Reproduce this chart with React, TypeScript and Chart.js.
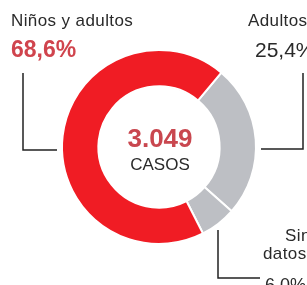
import React, { useEffect, useRef } from "react";
import { Chart, registerables } from "chart.js";

Chart.register(...registerables);

const categories = ["Adultos", "Sin datos", "Niños y adultos"];
const values = [25.4, 6.0, 68.6];
const valueLabels = ["25,4%", "6,0%", "68,6%"];
const colors = ["#bdbfc4", "#bdbfc4", "#f01c24"];
const totalLabel = "3.049";
const totalCaption = "CASOS";

const FONT = "'Liberation Sans', Arial, sans-serif";

const annotate = {
  id: "annotate",
  afterDraw(chart: any) {
    const ctx = chart.ctx as CanvasRenderingContext2D;
    const arc = chart.getDatasetMeta(0).data[0] as any;
    const cx = arc.x;
    const cy = arc.y;
    const R = arc.outerRadius;
    ctx.save();
    // centre
    ctx.textAlign = "center";
    ctx.textBaseline = "alphabetic";
    ctx.fillStyle = "#c9474f";
    ctx.font = `bold 26px ${FONT}`;
    ctx.fillText(totalLabel, cx + 1, cy + 0);
    ctx.fillStyle = "#2a2a2a";
    ctx.font = `17px ${FONT}`;
    ctx.fillText(totalCaption, cx + 1, cy + 23);

    // leader lines
    ctx.strokeStyle = "#222";
    ctx.lineWidth = 1.5;
    ctx.beginPath();
    ctx.moveTo(23, 73);
    ctx.lineTo(23, cy + 3);
    ctx.lineTo(cx - R - 5, cy + 3);
    ctx.stroke();
    ctx.beginPath();
    ctx.moveTo(303, 73);
    ctx.lineTo(303, cy + 2);
    ctx.lineTo(cx + R + 5, cy + 2);
    ctx.stroke();
    ctx.beginPath();
    ctx.moveTo(218, cy + 83);
    ctx.lineTo(218, 278);
    ctx.lineTo(260, 278);
    ctx.stroke();

    // labels
    ctx.textAlign = "left";
    ctx.fillStyle = "#2a2a2a";
    (ctx as any).letterSpacing = "0.4px";
    ctx.font = `17px ${FONT}`;
    ctx.fillText("Niños y adultos", 11, 26);
    ctx.fillText(categories[0], 248, 26);
    ctx.fillText("Sin", 285, 241);
    ctx.fillText("datos", 263, 259);
    (ctx as any).letterSpacing = "0px";
    ctx.fillStyle = "#d0444d";
    ctx.font = `bold 23px ${FONT}`;
    ctx.fillText(valueLabels[2], 11, 57);
    ctx.fillStyle = "#2a2a2a";
    ctx.font = `21px ${FONT}`;
    ctx.fillText(valueLabels[0], 255, 57);
    ctx.font = `18px ${FONT}`;
    ctx.fillText(valueLabels[1], 265, 291);
    ctx.restore();
  },
};

export default function App() {
  const ref = useRef<HTMLCanvasElement>(null);
  useEffect(() => {
    if (!ref.current) return;
    const chart = new Chart(ref.current, {
      type: "doughnut",
      data: {
        labels: categories,
        datasets: [
          {
            data: values,
            backgroundColor: colors,
            borderColor: "#ffffff",
            borderWidth: 2,
          },
        ],
      },
      options: {
        responsive: false,
        animation: false,
        rotation: 40,
        radius: 97,
        cutout: 60,
        layout: { padding: { left: 62, top: 50, right: 51, bottom: 41 } },
        plugins: { legend: { display: false }, tooltip: { enabled: false } },
      },
      plugins: [annotate],
    });
    return () => chart.destroy();
  }, []);
  return (
    <div style={{ position: "fixed", left: 0, top: 0, width: 307, height: 285, background: "#fff", overflow: "hidden" }}>
      <canvas ref={ref} width={307} height={285} style={{ display: "block" }} />
    </div>
  );
}
